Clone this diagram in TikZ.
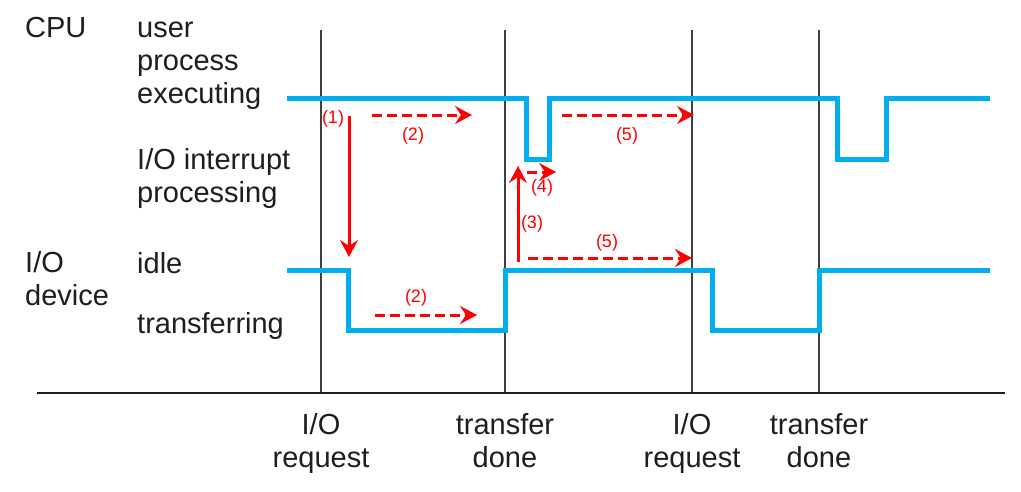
\documentclass[tikz,border=0pt]{standalone}
\usepackage{fontspec}
\setmainfont{Liberation Sans}
\usetikzlibrary{arrows.meta}
\definecolor{wave}{RGB}{0,174,239}
\definecolor{ink}{RGB}{30,30,30}
\begin{document}
\begin{tikzpicture}[x=1pt,y=-1pt,
  lbl/.style={inner sep=0pt, anchor=base west, align=left, text=ink, font=\fontsize{29}{33}\selectfont},
  tick/.style={inner sep=0pt, anchor=base, align=center, text=ink, font=\fontsize{29}{33}\selectfont},
  num/.style={inner sep=0pt, text=red, font=\fontsize{18}{20}\selectfont},
  guide/.style={draw=ink!85, line width=1.4pt},
  waveline/.style={draw=wave, line width=5pt, line join=miter},
  msg/.style={red, line width=3pt, -{Stealth[length=17pt,width=18pt,inset=6pt]}},
  msgdash/.style={msg, dash pattern=on 10pt off 5pt}]
\useasboundingbox[fill=white] (0,0) rectangle (1021,491);
% row labels (base = last line)
\node[lbl] (cpu) at (25,37) {CPU};
\node[lbl] (user) at (137,103) {user\\process\\executing};
\node[lbl] (intr) at (137,202) {I/O interrupt\\processing};
\node[lbl] (dev) at (25,305) {I/O\\device};
\node[lbl] (idle) at (137,273) {idle};
\node[lbl] (xfer) at (137,333) {transferring};
% time axis
\coordinate (t0) at (37,393);
\coordinate (t1) at (1005,393);
\node[tick] (req1) at (321,467) {I/O\\request};
\node[tick] (done1) at (505,467) {transfer\\done};
\node[tick] (req2) at (692,467) {I/O\\request};
\node[tick] (done2) at (819,467) {transfer\\done};
\foreach \x/\n in {321/a,505/b,692/c,819/d}{
  \coordinate (top\n) at (\x,30);
  \coordinate (bot\n) at (\x,393);
  \draw[guide] (top\n) -- (bot\n);
}
\draw[line width=2.8pt, ink] (t0) -- (t1);
% CPU and device states
\draw[waveline] (287,98) -- (526,98) -- (526,159) -- (549,159) -- (549,98)
  -- (837,98) -- (837,159) -- (886,159) -- (886,98) -- (990,98);
\draw[waveline] (287,270) -- (348,270) -- (348,330) -- (505,330) -- (505,270)
  -- (712,270) -- (712,330) -- (819,330) -- (819,270) -- (990,270);
% steps
\coordinate (s1a) at (349,116);
\coordinate (s1b) at (349,257);
\coordinate (s2a) at (372,115);
\coordinate (s2b) at (472,115);
\coordinate (s2c) at (375,315);
\coordinate (s2d) at (477,315);
\coordinate (s3a) at (518,262);
\coordinate (s3b) at (518,166);
\coordinate (s4a) at (527,172);
\coordinate (s4b) at (556,172);
\coordinate (s5a) at (562,115);
\coordinate (s5b) at (694,115);
\coordinate (s5c) at (528,258);
\coordinate (s5d) at (692,258);
\draw[msg] (s1a) -- (s1b);
\draw[msgdash] (s2a) -- (s2b);
\draw[msgdash] (s2c) -- (s2d);
\draw[msg] (s3a) -- (s3b);
\draw[msgdash] (s4a) -- (s4b);
\draw[msgdash] (s5a) -- (s5b);
\draw[msgdash] (s5c) -- (s5d);
\node[num] (n1) at (333,119) {(1)};
\node[num] (n2) at (413,136) {(2)};
\node[num] (n2b) at (416,298) {(2)};
\node[num] (n3) at (532,224) {(3)};
\node[num] (n4) at (542,188) {(4)};
\node[num] (n5) at (627,136) {(5)};
\node[num] (n5b) at (607,243) {(5)};
\end{tikzpicture}
\end{document}
